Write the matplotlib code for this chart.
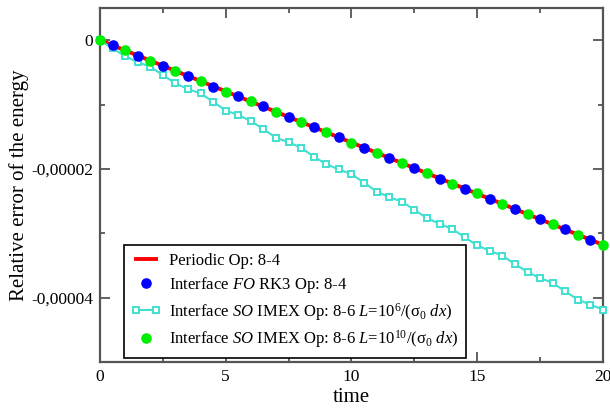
import matplotlib
matplotlib.use("Agg")
import matplotlib.pyplot as plt
from matplotlib.legend_handler import HandlerLine2D
from matplotlib.ticker import FixedLocator, FuncFormatter

plt.rcParams['font.family'] = ['Liberation Serif', 'DejaVu Serif']
plt.rcParams['mathtext.fontset'] = 'custom'
plt.rcParams['mathtext.rm'] = 'Liberation Serif'
plt.rcParams['mathtext.it'] = 'Liberation Serif:italic'
plt.rcParams['mathtext.bf'] = 'Liberation Serif:bold'

# Periodic reference (red line)
t_periodic = [0, 20]
e_periodic = [0.0, -3.18e-5]

# Interface FO RK3 (blue dots, half-integer times)
t_fo = [0.5, 1.5, 2.5, 3.5, 4.5, 5.5, 6.5, 7.5, 8.5, 9.5,
        10.5, 11.5, 12.5, 13.5, 14.5, 15.5, 16.5, 17.5, 18.5, 19.5]
e_fo = [-0.08e-5, -0.24e-5, -0.40e-5, -0.56e-5, -0.72e-5, -0.87e-5, -1.03e-5,
        -1.19e-5, -1.35e-5, -1.51e-5, -1.67e-5, -1.83e-5, -1.99e-5, -2.15e-5,
        -2.31e-5, -2.46e-5, -2.62e-5, -2.78e-5, -2.94e-5, -3.10e-5]

# Interface SO IMEX L=1e10 (green dots, integer times)
t_so10 = [0, 1, 2, 3, 4, 5, 6, 7, 8, 9, 10,
          11, 12, 13, 14, 15, 16, 17, 18, 19, 20]
e_so10 = [0.0, -0.16e-5, -0.32e-5, -0.48e-5, -0.64e-5, -0.80e-5, -0.95e-5,
          -1.11e-5, -1.27e-5, -1.43e-5, -1.59e-5, -1.75e-5, -1.91e-5, -2.07e-5,
          -2.23e-5, -2.38e-5, -2.54e-5, -2.70e-5, -2.86e-5, -3.02e-5, -3.18e-5]

# Interface SO IMEX L=1e6 (cyan open squares)
t_so6 = [0, 0.5, 1, 1.5, 2, 2.5, 3, 3.5, 4, 4.5, 5, 5.5, 6, 6.5, 7, 7.5, 8, 8.5,
         9, 9.5, 10, 10.5, 11, 11.5, 12, 12.5, 13, 13.5, 14, 14.5, 15, 15.5, 16,
         16.5, 17, 17.5, 18, 18.5, 19, 19.5, 20]
e_so6 = [0.0, -0.129e-5, -0.248e-5, -0.341e-5, -0.414e-5, -0.543e-5, -0.671e-5,
         -0.760e-5, -0.826e-5, -0.957e-5, -1.093e-5, -1.163e-5, -1.256e-5,
         -1.384e-5, -1.515e-5, -1.586e-5, -1.670e-5, -1.809e-5, -1.927e-5,
         -2.008e-5, -2.082e-5, -2.212e-5, -2.352e-5, -2.439e-5, -2.507e-5,
         -2.636e-5, -2.764e-5, -2.853e-5, -2.930e-5, -3.062e-5, -3.189e-5,
         -3.271e-5, -3.349e-5, -3.478e-5, -3.602e-5, -3.695e-5, -3.772e-5,
         -3.902e-5, -4.031e-5, -4.109e-5, -4.186e-5]

x_major = [0, 5, 10, 15, 20]
x_minor = [2.5, 7.5, 12.5, 17.5]
y_major = [0, -2e-5, -4e-5]
y_minor = [-1e-5, -3e-5]
y_ticklabels = {0: "0", -2e-5: "-0,00002", -4e-5: "-0,00004"}

labels = [
    "Periodic Op: 8-4",
    r"Interface $\it{FO}$ RK3 Op: 8-4",
    r"Interface $\it{SO}$ IMEX Op: 8-6 $L$=10$^6$/(σ$_0$ $dx$)",
    r"Interface $\it{SO}$ IMEX Op: 8-6 $L$=10$^{10}$/(σ$_0$ $dx$)",
]

fig = plt.figure(figsize=(6.1, 4.08), dpi=100)
ax = fig.add_axes([0.1639, 0.1127, 0.8246, 0.8677])

l_red, = ax.plot(t_periodic, e_periodic, color='red', lw=2.8, zorder=2, label=labels[0])
l_cyan, = ax.plot(t_so6, e_so6, color='#40e0d0', lw=1.5, marker='s', ms=4.6,
                  mfc='white', mec='#40e0d0', mew=1.4, zorder=3, label=labels[2])
l_blue, = ax.plot(t_fo, e_fo, ls='none', marker='o', ms=6.6, color='blue',
                  mec='blue', zorder=4, label=labels[1])
l_green, = ax.plot(t_so10, e_so10, ls='none', marker='o', ms=6.6, color='#00ee00',
                   mec='#00ee00', zorder=5, label=labels[3])
for l in (l_cyan, l_blue, l_green):
    l.set_clip_on(False)

ax.set_xlim(0, 20)
ax.set_ylim(-5e-5, 5e-6)
ax.xaxis.set_major_locator(FixedLocator(x_major))
ax.xaxis.set_minor_locator(FixedLocator(x_minor))
ax.yaxis.set_major_locator(FixedLocator(y_major))
ax.yaxis.set_minor_locator(FixedLocator(y_minor))
ax.xaxis.set_major_formatter(FuncFormatter(lambda v, p: "%d" % v))
ax.yaxis.set_major_formatter(FuncFormatter(
    lambda v, p: y_ticklabels.get(min(y_ticklabels, key=lambda k: abs(k - v)), "")))

spine_c = '#555555'
for s in ax.spines.values():
    s.set_color(spine_c)
    s.set_linewidth(1.6)
ax.tick_params(which='both', direction='in', top=True, right=True,
               color=spine_c, width=1.3, labelsize=12.5, labelcolor='black')
ax.tick_params(which='major', length=7, pad=5)
ax.tick_params(which='minor', length=3.8)

ax.set_xlabel("time", fontsize=15, labelpad=2)
ax.set_ylabel("Relative error of the energy", fontsize=15)
ax.yaxis.set_label_coords(-0.142, 0.5)

handles = [l_red, l_blue, l_cyan, l_green]
leg = ax.legend(handles, labels, loc='lower left', bbox_to_anchor=(0.047, 0.012),
                fontsize=12, frameon=True, fancybox=False, edgecolor='black',
                framealpha=1, borderpad=0.45, handlelength=1.8, handletextpad=0.5,
                labelspacing=0.35, borderaxespad=0,
                handler_map={l_blue: HandlerLine2D(numpoints=1),
                             l_green: HandlerLine2D(numpoints=1),
                             l_cyan: HandlerLine2D(numpoints=2),
                             l_red: HandlerLine2D(numpoints=2)})
leg.get_frame().set_linewidth(1.2)
leg.set_zorder(10)

fig.savefig("out.png", dpi=100)
